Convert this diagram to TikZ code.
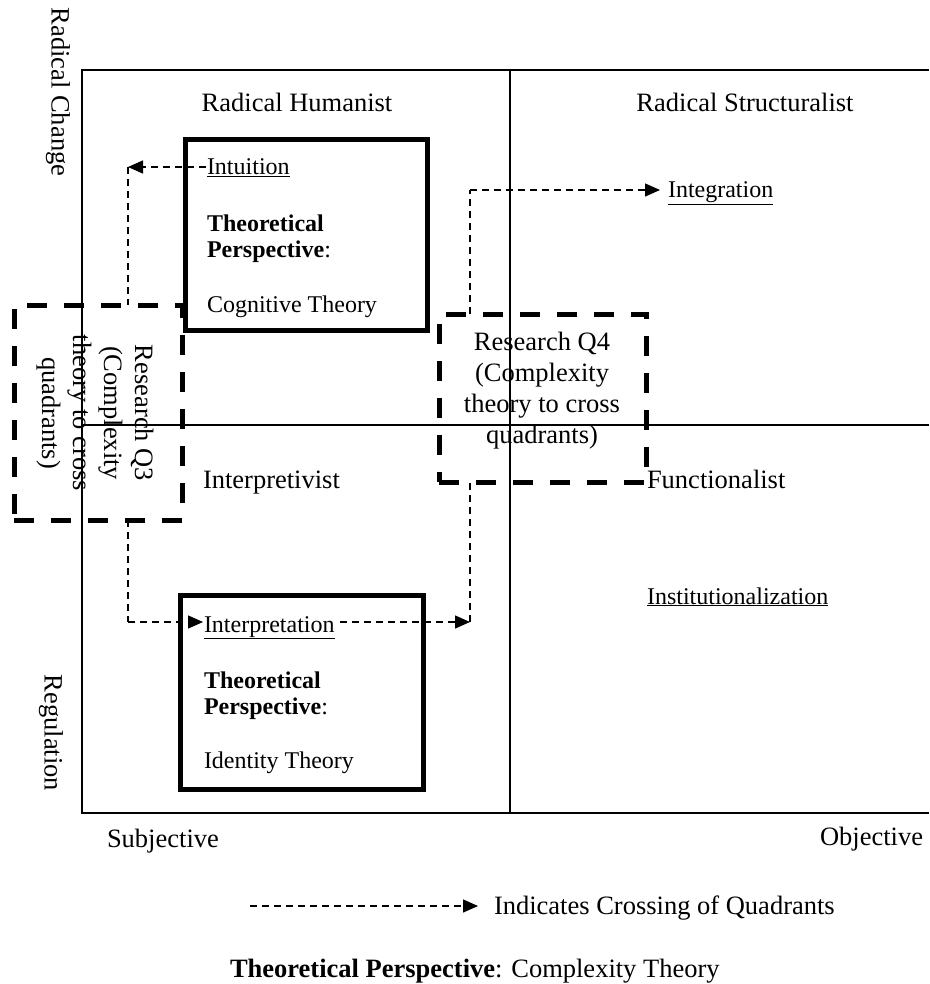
\documentclass[tikz,border=0pt]{standalone}
\usepackage{fontspec}
\setmainfont{Liberation Serif}
\usetikzlibrary{arrows.meta}
\begin{document}
\begin{tikzpicture}[x=1pt,y=-1pt,
  every node/.style={inner sep=0pt, outer sep=0pt, font=\fontsize{26.5}{30.5}\selectfont},
  boxtext/.style={anchor=base west, font=\fontsize{24}{27.6}\selectfont},
  lbl/.style={anchor=base west},
  rule/.style={line width=1.6pt},
  solidbox/.style={draw, line width=5pt},
  dashbox/.style={draw, line width=5pt, dash pattern=on 20pt off 17pt},
  rq/.style={align=center, font=\fontsize{26.5}{31}\selectfont},
  flow/.style={line width=1.4pt, dash pattern=on 7pt off 5pt},
  flowarrow/.style={flow, -{Triangle[length=15pt,width=13pt]}}]
\useasboundingbox (0,0) rectangle (929,984);

% quadrant frame
\draw[rule] (929,70) -- (82,70) -- (82,813) -- (929,813);
\draw[rule] (82,425) -- (929,425);
\draw[rule] (510,70) -- (510,813);

% axis labels
\node[rotate=-90] (rchange) at (58,92) {Radical Change};
\node[rotate=-90] (regul) at (51,733) {Regulation};
\node[lbl] (subj) at (107,847) {Subjective};
\node[anchor=base east] (obj) at (923,845) {Objective};

% quadrant names
\node[anchor=base] (rhum) at (297,112) {Radical Humanist};
\node[anchor=base] (rstr) at (745,112) {Radical Structuralist};
\node[lbl] (interpv) at (203,488) {Interpretivist};
\node[lbl] (func) at (647,488) {Functionalist};
\node[boxtext] (inst) at (647,604) {\underline{Institutionalization}};
\node[boxtext] (integ) at (668,198) {\underline{Integration}};

% perspective boxes
\node[solidbox, minimum width=242pt, minimum height=190pt] (cogbox) at (306,235) {};
\node[boxtext] (intu) at (207,175) {\underline{Intuition}};
\node[boxtext] (cogA) at (207,232) {\textbf{Theoretical}};
\node[boxtext] (cogB) at (207,258) {\textbf{Perspective}:};
\node[boxtext] (cogC) at (207,312) {Cognitive Theory};

\node[solidbox, minimum width=243pt, minimum height=194pt] (idbox) at (301.5,692) {};
\node[boxtext] (interp) at (204,632) {\underline{Interpretation}};
\node[boxtext] (idA) at (204,688) {\textbf{Theoretical}};
\node[boxtext] (idB) at (204,714) {\textbf{Perspective}:};
\node[boxtext] (idC) at (204,768) {Identity Theory};

% research question boxes
\node[dashbox, minimum width=168pt, minimum height=215pt] (q3) at (98,412.5) {};
\node[rq, rotate=-90] (q3txt) at (95,413) {Research Q3\\(Complexity\\theory to cross\\quadrants)};
\node[dashbox, minimum width=207pt, minimum height=168pt] (q4) at (542.5,398) {};
\node[rq] (q4txt) at (542,391) {Research Q4\\(Complexity\\theory to cross\\quadrants)};

% crossing paths
\coordinate (c1) at (128,167);
\draw[flowarrow, shorten <=1pt] (intu.west |- c1) -- (c1);
\draw[flow] (c1) -- (q3.north -| c1);

\coordinate (c2) at (470,190);
\draw[flow] (q4.north -| c2) -- (c2);
\draw[flowarrow, shorten >=8pt] (c2) -- (c2 -| integ.west);

\coordinate (c3) at (128,622);
\draw[flow] (q3.south -| c3) -- (c3);
\draw[flowarrow, shorten >=1pt] (c3) -- (c3 -| interp.west);

\coordinate (c4) at (470,622);
\draw[flowarrow, shorten <=5pt] (c3 -| interp.east) -- (c4);
\draw[flow] (c4) -- (q4.south -| c4);

% legend
\node[lbl] (legtxt) at (494,914) {Indicates Crossing of Quadrants};
\coordinate (leg0) at (250,906);
\draw[flowarrow, shorten >=16pt] (leg0) -- (leg0 -| legtxt.west);
\node[lbl] (caption) at (230,977) {\textbf{Theoretical Perspective}: Complexity Theory};
\end{tikzpicture}
\end{document}
